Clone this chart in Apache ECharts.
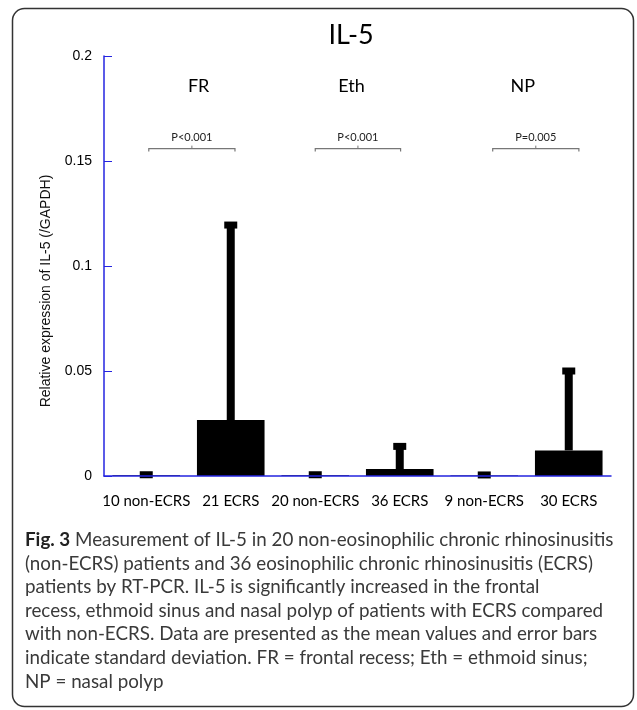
<!DOCTYPE html>
<html>
<head>
<meta charset="utf-8">
<script src="https://cdn.jsdelivr.net/npm/echarts@6/dist/echarts.min.js"></script>
<style>
  html, body { margin: 0; padding: 0; background: #fff; }
  #main { width: 637px; height: 710px; }
</style>
</head>
<body>
<div id="main"></div>
<script>
// data
var categories = ['10 non-ECRS', '21 ECRS', '20 non-ECRS', '36 ECRS', '9 non-ECRS', '30 ECRS'];
var means = [0.0003, 0.0267, 0.0003, 0.0033, 0.0002, 0.0122];
var sds = [0.0003, 0.0928, 0.0003, 0.0108, 0.0003, 0.0378];
var groups = ['FR', 'Eth', 'NP'];
var pValues = ['P<0.001', 'P<0.001', 'P=0.005'];
var yMin = 0, yMax = 0.2, yStep = 0.05;

// where the brackets / group names sit (in category units 0..6)
var bracketLeft = [0.53, 2.5, 4.6];
var bracketRight = [1.55, 3.51, 5.62];
var bracketY = 0.1559;
var groupX = [1.12, 2.93, 4.955];
var groupY = 0.1857;

var captionLines = [
  '{b|Fig. 3} Measurement of IL-5 in 20 non-eosinophilic chronic rhinosinusitis',
  '(non-ECRS) patients and 36 eosinophilic chronic rhinosinusitis (ECRS)',
  'patients by RT-PCR. IL-5 is significantly increased in the frontal',
  'recess, ethmoid sinus and nasal polyp of patients with ECRS compared',
  'with non-ECRS. Data are presented as the mean values and error bars',
  'indicate standard deviation. FR = frontal recess; Eth = ethmoid sinus;',
  'NP = nasal polyp'
];

var blue = '#2424e0';
var calibri = 'Lato, "Open Sans", sans-serif';

var myChart = echarts.init(document.getElementById('main'));

var graphics = [
  {
    type: 'rect',
    shape: { x: 12.5, y: 8.5, width: 621, height: 698, r: 12 },
    style: { fill: 'none', stroke: '#333', lineWidth: 1.5 }
  },
  {
    type: 'text',
    x: 351, y: 35,
    style: { text: 'IL-5', font: '27px ' + calibri, fill: '#000', align: 'center', verticalAlign: 'middle' }
  },
  {
    type: 'text',
    x: 46, y: 291,
    rotation: Math.PI / 2,
    style: {
      text: 'Relative expression of IL-5 (/GAPDH)',
      font: '14px "Liberation Sans", Arial, sans-serif',
      fill: '#111', align: 'center', verticalAlign: 'middle'
    }
  }
];

captionLines.forEach(function (line, i) {
  graphics.push({
    type: 'text',
    x: 25, y: 540 + i * 23.6,
    style: {
      text: line,
      font: '18.8px ' + calibri,
      fill: '#3a3a3a',
      verticalAlign: 'middle',
      rich: { b: { fontWeight: 'bold', fontSize: 18.8, fontFamily: calibri, fill: '#222' } }
    }
  });
});

var option = {
  animation: false,
  grid: { left: 104, right: 26, top: 56, bottom: 234 },
  xAxis: [
    {
      type: 'category',
      data: categories,
      z: 5,
      axisLine: { lineStyle: { color: blue, width: 1.5 } },
      axisTick: { inside: true, length: 8, lineStyle: { color: blue } },
      axisLabel: { interval: 0, margin: 18, color: '#000', fontSize: 15, fontFamily: calibri }
    },
    { type: 'value', min: 0, max: 6, show: false }
  ],
  yAxis: {
    type: 'value',
    min: yMin,
    max: yMax,
    interval: yStep,
    splitLine: { show: false },
    axisLine: { show: true, lineStyle: { color: blue, width: 1.5 } },
    axisTick: { show: true, inside: true, length: 8, lineStyle: { color: blue } },
    axisLabel: { margin: 12, color: '#000', fontSize: 14, fontFamily: '"Liberation Sans", Arial, sans-serif' }
  },
  graphic: graphics,
  series: [
    {
      type: 'bar',
      data: means,
      barWidth: '80%',
      itemStyle: { color: '#000' }
    },
    {
      // error bars (mean + SD)
      type: 'custom',
      z: 3,
      data: categories.map(function (c, i) { return [i, means[i], sds[i]]; }),
      renderItem: function (params, api) {
        var i = api.value(0), m = api.value(1), s = api.value(2);
        var base = api.coord([i, m]);
        var top = api.coord([i, m + s]);
        return {
          type: 'group',
          children: [
            { type: 'rect', shape: { x: top[0] - 4, y: top[1], width: 8, height: base[1] - top[1] }, style: { fill: '#000' } },
            { type: 'rect', shape: { x: top[0] - 6.5, y: top[1] - 3.5, width: 13, height: 7 }, style: { fill: '#000' } }
          ]
        };
      }
    },
    {
      // significance brackets + region names
      type: 'custom',
      xAxisIndex: 1,
      data: groups.map(function (g, i) { return [bracketLeft[i], bracketRight[i], bracketY, groupX[i], groupY]; }),
      renderItem: function (params, api) {
        var k = params.dataIndex;
        var p1 = api.coord([api.value(0), api.value(2)]);
        var p2 = api.coord([api.value(1), api.value(2)]);
        var g = api.coord([api.value(3), api.value(4)]);
        var mid = (p1[0] + p2[0]) / 2;
        return {
          type: 'group',
          children: [
            {
              type: 'polyline',
              shape: { points: [[p1[0], p1[1] + 3], [p1[0], p1[1]], [p2[0], p2[1]], [p2[0], p2[1] + 3]] },
              style: { stroke: '#777', lineWidth: 1.2, fill: null }
            },
            {
              type: 'line',
              shape: { x1: mid, y1: p1[1], x2: mid, y2: p1[1] - 3 },
              style: { stroke: '#777', lineWidth: 1 }
            },
            {
              type: 'text',
              x: mid, y: p1[1] - 11,
              style: { text: pValues[k], font: '11px ' + calibri, fill: '#222', align: 'center', verticalAlign: 'middle' }
            },
            {
              type: 'text',
              x: g[0], y: g[1],
              style: { text: groups[k], font: '18px ' + calibri, fill: '#000', align: 'center', verticalAlign: 'middle' }
            }
          ]
        };
      }
    }
  ]
};

myChart.setOption(option);
</script>
</body>
</html>
